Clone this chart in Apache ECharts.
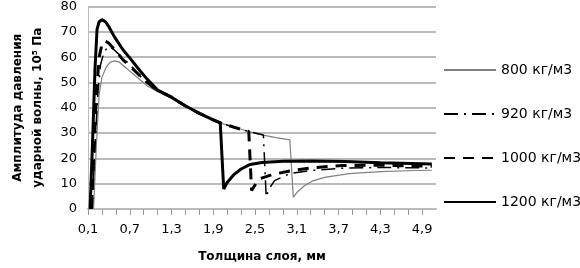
<!DOCTYPE html>
<html>
<head>
<meta charset="utf-8">
<script src="https://cdn.jsdelivr.net/npm/echarts@6/dist/echarts.min.js"></script>
<style>
  html, body { margin: 0; padding: 0; background: #fff; }
  #chart { width: 580px; height: 268px; }
</style>
</head>
<body>
<div id="chart"></div>
<script>
// толщина слоя, мм / амплитуда, 10^5 Па
var seriesNames = ['800 кг/м3', '920 кг/м3', '1000 кг/м3', '1200 кг/м3'];

var x800 = [0.18, 0.22, 0.26, 0.3, 0.36, 0.42, 0.48, 0.55, 0.72, 0.95, 1.1, 1.28, 1.49, 1.7, 1.9, 2.0, 2.2, 2.41, 2.62, 2.8, 3.0, 3.05, 3.1, 3.2, 3.32, 3.5, 3.85, 4.3, 4.8, 5.04];
var y800 = [0, 25, 45, 52, 56, 58, 58.5, 58, 54, 48.7, 46.3, 44.3, 40.9, 37.8, 35.2, 34, 32.3, 30.6, 29.2, 28.2, 27.3, 4.7, 6.5, 9, 11, 12.5, 14, 14.8, 15.2, 15.3];

var x920 = [0.16, 0.2, 0.24, 0.28, 0.33, 0.39, 0.45, 0.55, 0.72, 0.85, 0.95, 1.1, 1.28, 1.49, 1.7, 1.9, 2.0, 2.2, 2.41, 2.62, 2.66, 2.7, 2.78, 3.0, 3.3, 3.8, 4.3, 5.04];
var y920 = [0, 25, 45, 57, 62, 64.2, 63.5, 61, 56.5, 52.5, 49.8, 46.6, 44.3, 40.9, 37.8, 35.2, 34, 32.3, 30.6, 29.2, 4.7, 7.9, 11.2, 14, 15.2, 16.2, 16.4, 16.2];

var x1000 = [0.15, 0.19, 0.22, 0.26, 0.3, 0.34, 0.4, 0.48, 0.6, 0.72, 0.85, 0.95, 1.1, 1.28, 1.49, 1.7, 1.9, 2.0, 2.2, 2.41, 2.45, 2.5, 2.55, 2.76, 3.0, 3.32, 3.75, 4.3, 5.04];
var y1000 = [0, 25, 45, 60, 65, 66.5, 65.5, 63, 59, 56, 52.5, 50, 46.8, 44.4, 40.9, 37.8, 35.2, 34, 32.3, 30.6, 7.3, 9.5, 11.8, 13.7, 15, 16.3, 17.2, 17.3, 16.9];

var x1200 = [0.13, 0.17, 0.2, 0.23, 0.26, 0.3, 0.35, 0.4, 0.48, 0.6, 0.72, 0.85, 0.95, 1.1, 1.28, 1.49, 1.7, 1.9, 2.0, 2.05, 2.1, 2.2, 2.3, 2.43, 2.6, 2.9, 3.3, 3.8, 4.3, 5.04];
var y1200 = [0, 30, 55, 71, 74, 74.8, 74, 72, 68, 63, 59, 54.5, 51.3, 47, 44.5, 40.9, 37.8, 35.2, 34, 7.9, 10.5, 13.7, 15.8, 17.6, 18.4, 18.9, 19, 18.8, 18.3, 17.8];

function pairs(xs, ys) {
  var out = [];
  for (var i = 0; i < xs.length; i++) out.push([xs[i], ys[i]]);
  return out;
}

var font = 'DejaVu Sans';
var chart = echarts.init(document.getElementById('chart'));

chart.setOption({
  animation: false,
  grid: { left: 81, top: 6, right: 144, bottom: 56, containLabel: false },
  legend: {
    orient: 'vertical',
    left: 438,
    top: 58,
    itemWidth: 52,
    itemHeight: 14,
    itemGap: 30,
    data: seriesNames,
    itemStyle: { opacity: 0 },
    textStyle: { fontFamily: font, fontSize: 14, color: '#000' }
  },
  xAxis: {
    type: 'value',
    min: 0.1,
    max: 5.1,
    interval: 0.2,
    name: 'Толщина слоя, мм',
    nameLocation: 'middle',
    nameGap: 42,
    nameTextStyle: { fontFamily: font, fontSize: 12, fontWeight: 'bold', color: '#000' },
    axisLine: { show: true, lineStyle: { color: '#bbb', width: 2 } },
    axisTick: { show: true, inside: false, length: 6, lineStyle: { color: '#999', width: 1 } },
    splitLine: { show: false },
    axisLabel: {
      margin: 14,
      fontFamily: font,
      fontSize: 13,
      color: '#000',
      showMaxLabel: false,
      formatter: function (v) {
        var k = Math.round((v - 0.1) / 0.2);
        if (k % 3 !== 0) return '';
        return (0.1 + k * 0.2).toFixed(1).replace('.', ',');
      }
    }
  },
  yAxis: {
    type: 'value',
    min: 0,
    max: 80,
    interval: 10,
    name: 'Амплитуда давления\nударной волны, 10⁵ Па',
    nameLocation: 'middle',
    nameRotate: 90,
    nameGap: 40,
    nameTextStyle: { fontFamily: font, fontSize: 12, fontWeight: 'bold', color: '#000', lineHeight: 20 },
    axisLine: { show: true, lineStyle: { color: '#bbb', width: 1 } },
    axisTick: { show: false },
    splitLine: { show: true, lineStyle: { color: '#bbb', width: 2 } },
    axisLabel: { margin: 11, fontFamily: font, fontSize: 13, color: '#000' }
  },
  series: [
    {
      name: seriesNames[0], type: 'line', symbol: 'none',
      data: pairs(x800, y800),
      lineStyle: { color: '#808080', width: 1.2 },
      itemStyle: { color: '#808080' }
    },
    {
      name: seriesNames[1], type: 'line', symbol: 'none',
      data: pairs(x920, y920),
      lineStyle: { color: '#000', width: 1.5, type: [14, 6, 2, 6] },
      itemStyle: { color: '#000' }
    },
    {
      name: seriesNames[2], type: 'line', symbol: 'none',
      data: pairs(x1000, y1000),
      lineStyle: { color: '#000', width: 3, type: [11, 8] },
      itemStyle: { color: '#000' }
    },
    {
      name: seriesNames[3], type: 'line', symbol: 'none',
      data: pairs(x1200, y1200),
      lineStyle: { color: '#000', width: 3 },
      itemStyle: { color: '#000' }
    }
  ]
});
</script>
</body>
</html>
